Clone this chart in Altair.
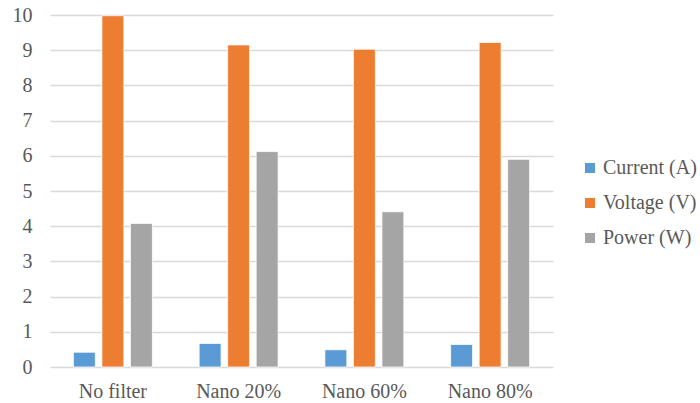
import altair as alt
import pandas as pd

categories = ["No filter", "Nano 20%", "Nano 60%", "Nano 80%"]
series = ["Current (A)", "Voltage (V)", "Power (W)"]
current = [0.42, 0.67, 0.49, 0.64]
voltage = [9.98, 9.15, 9.03, 9.22]
power = [4.08, 6.12, 4.41, 5.90]
colors = ["#5B9BD5", "#ED7D31", "#A5A5A5"]

rows = []
for i, c in enumerate(categories):
    for s, vals in zip(series, [current, voltage, power]):
        rows.append({"cat": c, "series": s, "value": vals[i]})
df = pd.DataFrame(rows)

font = "Liberation Serif"
chart = alt.Chart(df).mark_bar(stroke="white", strokeWidth=0.8).encode(
    x=alt.X("cat:N", sort=categories, title=None,
            scale=alt.Scale(paddingInner=0, paddingOuter=0),
            axis=alt.Axis(labelAngle=0, ticks=False, domain=False, grid=False,
                          labelFont=font, labelFontSize=20, labelColor="#595959",
                          labelPadding=14)),
    xOffset=alt.XOffset("series:N", sort=series,
                        scale=alt.Scale(paddingInner=0.23, paddingOuter=0.82)),
    y=alt.Y("value:Q", title=None,
            scale=alt.Scale(domain=[0, 10]),
            axis=alt.Axis(values=list(range(0, 11)), ticks=False, domain=False,
                          gridColor="#D9D9D9", gridWidth=1.3,
                          labelFont=font, labelFontSize=20, labelColor="#595959",
                          labelPadding=18)),
    color=alt.Color("series:N", sort=series,
                    scale=alt.Scale(domain=series, range=colors),
                    legend=alt.Legend(title=None, orient="none", legendX=530, legendY=143,
                                      symbolType="square", symbolSize=100,
                                      symbolStrokeWidth=0,
                                      labelFont=font, labelFontSize=20,
                                      labelColor="#595959", labelOffset=3,
                                      rowPadding=15, padding=0)),
).properties(
    width=503, height=352,
    autosize=alt.AutoSizeParams(type="none"),
    padding={"left": 50, "top": 15, "right": 147, "bottom": 36},
).configure_view(stroke=None)

chart.save("out.html", embed_options={"renderer": "svg", "actions": False})
